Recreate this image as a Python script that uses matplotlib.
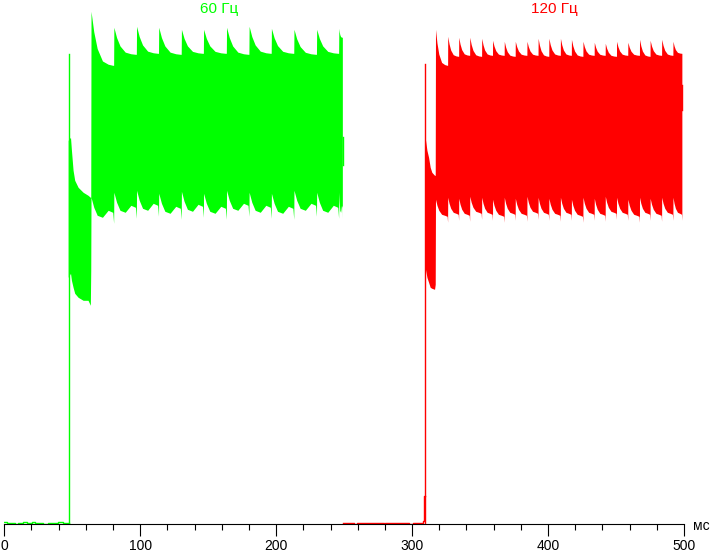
#Flicker oscillograms: 60 Hz vs 120 Hz
import numpy as np
import matplotlib
matplotlib.use("Agg")
import matplotlib.pyplot as plt

plt.rcParams["font.family"] = ["Liberation Sans", "DejaVu Sans"]

GREEN = "#00ff00"
RED = "#ff0000"

# time in ms, brightness in arbitrary units (0 = black)

# ---- 60 Hz (green) ----
g_base_t = [0, 2.2, 7.8, 10.3, 13.5, 16.4, 20.1, 22.5, 28.6, 32.3, 39.6, 43.3, 46.9]
g_base_v = [2, 1, 0, 1, 2, 1, 2, 1, 0, 1, 2, 1, 1]
g_spike_t = 47.6
g_spike_v = 470
g_init_t = [47.0, 48.7, 49.4, 50.6, 51.8, 54.3, 58.0, 61.6, 63.3, 63.6]
g_init_hi = [384, 387, 374, 354, 344, 337, 332, 329, 327, 327]
g_init_lo = [247, 251, 244, 237, 231, 227, 224, 224, 219, 254]
g_peak_t = [63.8, 80.6, 97.3, 113.6, 130.3, 146.6, 163.5, 180.1, 196.5, 213.1, 229.8, 246.1]
g_peak_v = [513, 497, 498, 497, 495, 495, 497, 498, 496, 495, 495, 496]
g_floor_v = [459, 470, 471, 470, 471, 471, 470, 471, 471, 470, 471, 487]
g_low_mid = [307, 312, 314, 311, 313, 311, 314, 312, 311, 314, 312, 312]
g_end_t = 248.7
g_tail = (249.1, 359, 387)

# ---- 120 Hz (red) ----
r_base_t = [249.3, 250.5, 257.6, 259.5, 267.6, 270.5, 279.1, 280.3, 287.2, 290.1,
            297.4, 300.4, 307.9, 308.7, 309.4]
r_base_v = [1.6, 1.0, 0, 1.0, 1.6, 1.0, 0, 1.0, 1.6, 1.0, 0, 1.0, 3, 28, 28]
r_spike_t = 309.5
r_spike_v = 460
r_init_t = [309.7, 310.9, 312.1, 313.3, 314.5, 316.5, 317.0]
r_init_hi = [386, 374, 367, 357, 352, 349, 349]
r_init_lo = [256, 247, 242, 237, 236, 235, 240]
r_peak_t = [317.2, 326.2, 334.3, 342.4, 351.2, 359.2, 367.8, 375.9, 384.5, 392.7, 400.6,
            409.1, 417.2, 425.7, 434.0, 442.1, 450.4, 458.7, 467.3, 475.1, 483.6, 491.9]
r_peak_v = [495, 488, 487, 487, 486, 484, 483, 483, 483, 486, 486,
            486, 485, 483, 482, 481, 483, 482, 485, 484, 485, 483]
r_floor_v = [459, 468, 469, 468, 469, 469, 468, 469, 469, 468, 469,
             469, 468, 469, 469, 468, 469, 469, 468, 469, 469, 471]
r_low_mid = [310, 312, 311, 313, 312, 310, 312, 311, 313, 312, 311,
             312, 310, 312, 311, 313, 312, 310, 312, 311, 312, 312]
r_end_t = 498.5
r_tail = (498.8, 414, 439)

# shape of one flicker cycle (fraction of period)
prof_frac = [0, 0.12, 0.27, 0.5, 0.75, 0.95, 0.99]
prof_drop = [0, 0.38, 0.69, 0.92, 0.98, 1.0, 1.0]
g_low_off = [20, 10, 2, 0, 7, 5, -6]
r_low_off = [15, 9, 4, 0, -1, -2, -8]


def envelope(peak_t, end_t, peak_v, floor_v, low_mid, low_off):
    t, hi, lo = [], [], []
    ends = list(peak_t[1:]) + [end_t]
    for i, start in enumerate(peak_t):
        span = ends[i] - start
        for f, d, o in zip(prof_frac, prof_drop, low_off):
            t.append(start + f * span)
            hi.append(peak_v[i] - d * (peak_v[i] - floor_v[i]))
            lo.append(low_mid[i] + o)
    return t, hi, lo


W, H = 711, 553
fig = plt.figure(figsize=(W / 100, H / 100), dpi=100)
x0, x1, y_axis = 4.3, 684.0, 524.3
ax = fig.add_axes([x0 / W, (H - y_axis) / H, (x1 - x0) / W, y_axis / H])

for (base_t, base_v, sp_t, sp_v, it, ihi, ilo, pt, pv, fv, lm, lo_off, et, tail, col) in [
    (g_base_t, g_base_v, g_spike_t, g_spike_v, g_init_t, g_init_hi, g_init_lo,
     g_peak_t, g_peak_v, g_floor_v, g_low_mid, g_low_off, g_end_t, g_tail, GREEN),
    (r_base_t, r_base_v, r_spike_t, r_spike_v, r_init_t, r_init_hi, r_init_lo,
     r_peak_t, r_peak_v, r_floor_v, r_low_mid, r_low_off, r_end_t, r_tail, RED),
]:
    ax.step(base_t + [sp_t], base_v + [base_v[-1]], where="post", color=col, lw=1.0)
    ax.plot([sp_t, sp_t], [0, sp_v], color=col, lw=1.0)
    t, hi, lo = envelope(pt, et, pv, fv, lm, lo_off)
    ax.fill_between(np.r_[it, t], np.r_[ilo, lo], np.r_[ihi, hi], color=col,
                    lw=0, antialiased=False)
    ax.plot([tail[0], tail[0]], [tail[1], tail[2]], color=col, lw=1.0)

ax.set_xlim(0, 500)
ax.set_ylim(0, y_axis)
for s in ["left", "right", "top"]:
    ax.spines[s].set_visible(False)
ax.spines["bottom"].set_linewidth(0.8)
ax.set_yticks([])
ax.set_xticks([0, 100, 200, 300, 400, 500])
ax.set_xticks(np.arange(0, 501, 20), minor=True)
ax.tick_params(axis="x", which="major", length=8.8, width=0.8, pad=2, labelsize=10)
ax.tick_params(axis="x", which="minor", length=4.3, width=0.8)
ax.patch.set_visible(False)

fig.text(219 / W, 1 - 12.5 / H, "60 Гц", color=GREEN, fontsize=11, ha="center", va="baseline")
fig.text(554 / W, 1 - 12.5 / H, "120 Гц", color=RED, fontsize=11, ha="center", va="baseline")
fig.text(693 / W, 1 - 530 / H, "мс", fontsize=10, ha="left", va="baseline")

fig.savefig("out.png", dpi=100)
